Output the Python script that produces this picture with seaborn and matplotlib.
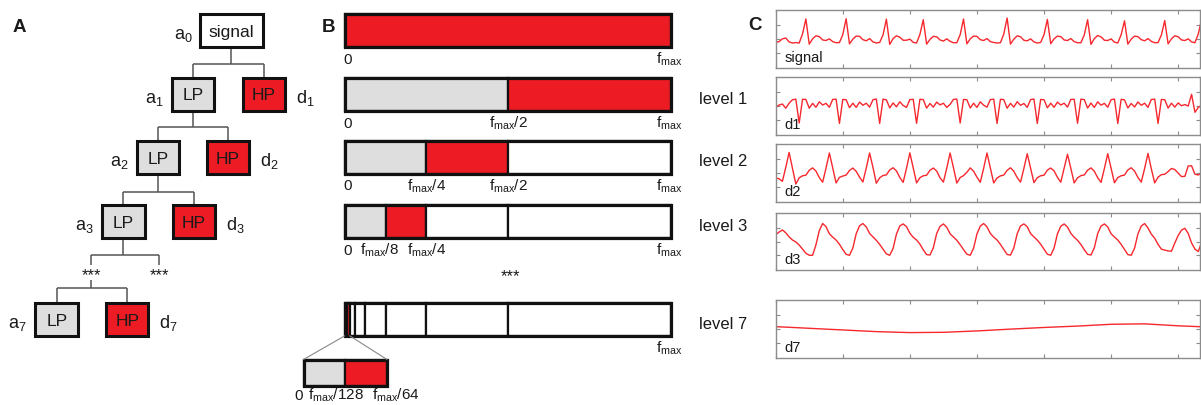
import numpy as np
import pandas as pd
import matplotlib
matplotlib.use("Agg")
import matplotlib.pyplot as plt
from matplotlib.patches import Rectangle, ConnectionPatch
import seaborn as sns

# ----------------------------- data -----------------------------
FS = 20.0  # samples per second of the traces in panel C

signal = [
    -0.25, -0.20, 0.00, 0.06, -0.22, -0.30, -0.27, -0.30, 0.35,
    1.43, -0.38, 0.00, 0.22, 0.16, -0.08, -0.12, 0.00, -0.20, -0.28, -0.27, 0.30,
    1.45, -0.36, -0.02, 0.20, 0.18, -0.06, -0.14, 0.02, -0.22, -0.30, -0.26, 0.28,
    1.42, -0.40, 0.02, 0.22, 0.12, -0.10, -0.10, -0.02, -0.25, -0.30, 0.32,
    1.38, -0.38, -0.04, 0.18, 0.15, -0.08, -0.16, 0.00, -0.18, -0.28, -0.28, 0.30,
    1.43, -0.36, 0.00, 0.20, 0.18, -0.06, -0.12, 0.02, -0.20, -0.26, -0.30, -0.28, 0.34,
    1.50, -0.38, -0.02, 0.22, 0.15, -0.10, -0.14, 0.00, -0.22, -0.30, -0.26, 0.30,
    1.40, -0.35, 0.00, 0.20, 0.16, -0.08, -0.12, 0.02, -0.20, -0.28, -0.28, 0.28,
    1.38, -0.40, 0.02, 0.24, 0.14, -0.10, -0.12, 0.00, -0.24, -0.30, 0.30,
    1.30, -0.38, -0.02, 0.20, 0.16, -0.06, -0.14, 0.02, -0.18, -0.28, -0.27, 0.28,
    1.32, -0.36, 0.00, 0.22, 0.15, -0.08, -0.12, 0.00, -0.22, -0.28, 0.35,
    1.40,
]

d1 = [
    -0.10, 0.07, 0.14, -0.16, 0.20, 0.45, 0.49,
    -1.22, 0.48, 0.47, -0.16, 0.19, -0.09, 0.30, 0.07, 0.19, -0.09, 0.47, 0.49,
    -1.25, 0.47, 0.45, -0.12, 0.20, -0.10, 0.28, 0.05, 0.20, -0.08, 0.45, 0.50,
    -1.25, 0.49, 0.44, -0.14, 0.22, -0.06, 0.30, 0.04, -0.10, 0.46, 0.48,
    -1.24, 0.48, 0.46, -0.15, 0.18, -0.08, 0.28, 0.08, 0.20, -0.10, 0.12, 0.47, 0.50,
    -1.22, 0.47, 0.45, -0.14, 0.20, -0.10, 0.30, 0.06, -0.08, 0.46, 0.49,
    -1.25, 0.48, 0.46, -0.16, 0.19, -0.08, 0.31, 0.05, 0.18, -0.10, 0.46, 0.50,
    -1.25, 0.47, 0.45, -0.13, 0.20, -0.09, 0.28, 0.07, 0.20, -0.08, 0.47, 0.48,
    -1.24, 0.49, 0.46, -0.15, 0.21, -0.10, 0.30, 0.06, 0.19, -0.09, 0.45, 0.50,
    -1.25, 0.48, 0.44, -0.14, 0.18, -0.07, 0.29, 0.05, 0.20, -0.10, 0.47, 0.49,
    -1.25, 0.47, 0.45, -0.15, 0.20, -0.08, 0.22, 0.02, 0.10,
    0.00, 0.84, -0.45, -0.10, 0.05,
]

d2 = [
    -0.35, -0.42, -0.60, 0.40,
    1.49, 0.35, -0.80, -0.35, -0.20, -0.16, 0.20, 0.37, 0.14, -0.33, -0.67, 0.35,
    1.45, 0.38, -0.72, -0.32, -0.22, -0.15, 0.18, 0.36, 0.12, -0.30, -0.65, 0.36,
    1.45, 0.40, -0.74, -0.35, -0.18, -0.14, 0.22, 0.38, 0.15, -0.32, -0.68, 0.34,
    1.46, 0.36, -0.72, -0.34, -0.20, -0.16, 0.20, 0.36, 0.14, -0.35, -0.66, 0.35,
    1.45, 0.38, -0.73, -0.33, -0.19, 0.05, 0.37, 0.13, -0.30, -0.67, 0.34,
    1.45, 0.37, -0.72, -0.36, -0.21, -0.15, 0.19, 0.38, 0.12, -0.33, -0.66, 0.33,
    1.40, 0.35, -0.70, -0.34, -0.20, -0.16, 0.21, 0.36, 0.15, -0.31, -0.67, 0.34,
    1.36, 0.34, -0.72, -0.35, -0.19, -0.14, 0.20, 0.37, 0.13, -0.34, -0.68, 0.32,
    1.40, 0.36, -0.71, -0.33, -0.20, -0.15, 0.22, 0.38, 0.14, -0.32, -0.66, 0.33,
    1.42, 0.30, -0.72, -0.30, -0.12, -0.09, 0.10, 0.33, 0.25, 0.00, -0.26, -0.24,
    0.51, 0.52, -0.09, -0.14, -0.02,
]

d3 = [
    0.52, 0.70, 0.86, 0.65, 0.35, 0.12, -0.02, -0.25, -0.55, -0.85, -1.00, -1.00, -0.23, 0.81,
    1.33, 1.10, 0.58, 0.33, 0.12, -0.19, -0.58, -0.93, -1.00, -0.47, 0.58, 1.16,
    1.33, 1.08, 0.60, 0.35, 0.10, -0.20, -0.55, -0.90, -1.00, -0.50, 0.55, 1.15,
    1.30, 1.10, 0.62, 0.32, 0.12, -0.18, -0.60, -0.95, -0.98, -0.45, 0.60, 1.12,
    1.30, 1.06, 0.58, 0.34, 0.10, -0.22, -0.58, -0.92, -1.00, -0.48, 0.56, 1.14,
    1.33, 1.08, 0.60, 0.33, 0.12, -0.20, -0.57, -0.94, -0.99, -0.46, 0.58, 1.15,
    1.30, 1.09, 0.59, 0.35, 0.11, -0.19, -0.56, -0.92, -1.00, -0.47, 0.57, 1.13,
    1.30, 1.07, 0.61, 0.32, 0.10, -0.21, -0.59, -0.93, -0.98, -0.45, 0.59, 1.14,
    1.30, 1.08, 0.58, 0.34, 0.12, -0.20, -0.57, -0.95, -1.00, -0.48, 0.56, 1.15,
    1.33, 1.00, 0.55, 0.25, -0.20, -0.55, -0.62, -0.68, -0.70, -0.10, 0.45, 0.85,
    0.98, 0.60, -0.10, -0.55, -0.72, -0.05,
]

d7_time = [0.0, 0.5, 1.0, 1.5, 2.0, 2.5, 3.0, 3.5, 4.0, 4.5, 5.0, 5.5, 6.0, 6.5]
d7 = [0.16, 0.04, -0.08, -0.20, -0.27, -0.25, -0.15, -0.02, 0.10, 0.20, 0.33, 0.36, 0.22, 0.12]

trace_names = ["signal", "d1", "d2", "d3", "d7"]

# panel A: filter tree labels
approx_labels = ["a$_1$", "a$_2$", "a$_3$", "a$_7$"]
detail_labels = ["d$_1$", "d$_2$", "d$_3$", "d$_7$"]

# panel B: frequency band edges (fractions of f_max) and their roles per level
band_levels = [0, 1, 2, 3, 7]
band_edges = {
    0: [0, 1],
    1: [0, 1/2, 1],
    2: [0, 1/4, 1/2, 1],
    3: [0, 1/8, 1/4, 1/2, 1],
    7: [0, 1/128, 1/64, 1/32, 1/16, 1/8, 1/4, 1/2, 1],
}
band_roles = {
    0: ["hp"],
    1: ["lp", "hp"],
    2: ["lp", "hp", "none"],
    3: ["lp", "hp", "none", "none"],
    7: ["lp", "hp", "none", "none", "none", "none", "none", "none"],
}
freq_ticks = {
    0: [(0, "0"), (1, "f$_{max}$")],
    1: [(0, "0"), (1/2, "f$_{max}$/2"), (1, "f$_{max}$")],
    2: [(0, "0"), (1/4, "f$_{max}$/4"), (1/2, "f$_{max}$/2"), (1, "f$_{max}$")],
    3: [(0, "0"), (1/8, "f$_{max}$/8"), (1/4, "f$_{max}$/4"), (1, "f$_{max}$")],
    7: [(1, "f$_{max}$")],
}
level_names = {1: "level 1", 2: "level 2", 3: "level 3", 7: "level 7"}
zoom_edges = [0, 1/128, 1/64]
zoom_roles = ["lp", "hp"]
zoom_ticks = [(0, "0"), (1/128, "f$_{max}$/128"), (1/64, "f$_{max}$/64")]

# ----------------------------- style -----------------------------
sns.set_theme(style="white")
plt.rcParams["font.family"] = ["Liberation Sans", "DejaVu Sans"]
plt.rcParams["mathtext.default"] = "regular"

RED = "#ED1C24"
GRAY = "#DEDEDE"
INK = "#111111"
TXT = "#1A1A1A"
LINE = "#555555"
TRACE = "#F5282E"
SPINE = "#8C8C8C"
role_color = {"lp": GRAY, "hp": RED, "none": "white"}

W, H = 1201, 405
fig = plt.figure(figsize=(W / 100, H / 100), dpi=100)

# overlay axes in pixel coordinates for the tree (panel A) and panel letters
axA = fig.add_axes([0, 0, 1, 1])
axA.set_xlim(0, W)
axA.set_ylim(H, 0)
axA.axis("off")

for letter, (lx, ly) in zip("ABC", [(13, 31.7), (321.5, 31.7), (748.5, 30)]):
    axA.text(lx, ly, letter, fontsize=13.5, fontweight="bold", color=TXT,
             ha="left", va="baseline")

# ----------------------------- panel A -----------------------------
BOX_W, BOX_H = 42.5, 33.0
ROW_Y = [30.5, 94.5, 157.5, 221.7, 319.6]
SIG_CX, SIG_W = 231.3, 62.5
tree_cx = [(193.0, 264.0), (158.0, 228.0), (123.3, 194.0), (56.7, 127.2)]


def draw_box(cx, cy, w, fc, label):
    axA.add_patch(Rectangle((cx - w / 2, cy - BOX_H / 2), w, BOX_H, fc=fc,
                            ec=INK, lw=2.2, zorder=3))
    axA.text(cx, cy + 6, label, ha="center", va="baseline", fontsize=12.5,
             color=TXT, zorder=4)


def draw_elbow(px, y0, ym, xl, xr, y1):
    kw = dict(color=LINE, lw=1.1, zorder=1, solid_capstyle="butt")
    axA.plot([px, px], [y0, ym], **kw)
    axA.plot([xl, xr], [ym, ym], **kw)
    axA.plot([xl, xl], [ym, y1], **kw)
    axA.plot([xr, xr], [ym, y1], **kw)


draw_box(SIG_CX, ROW_Y[0], SIG_W, "white", "signal")
axA.text(SIG_CX - SIG_W / 2 - 7, ROW_Y[0] + 8.5, "a$_0$", ha="right",
         va="baseline", fontsize=13, color=TXT)

for i, (lpx, hpx) in enumerate(tree_cx):
    cy = ROW_Y[i + 1]
    draw_box(lpx, cy, BOX_W, GRAY, "LP")
    draw_box(hpx, cy, BOX_W, RED, "HP")
    axA.text(lpx - BOX_W / 2 - 8.5, cy + 8.5, approx_labels[i], ha="right",
             va="baseline", fontsize=13, color=TXT)
    axA.text(hpx + BOX_W / 2 + 11, cy + 8.5, detail_labels[i], ha="left",
             va="baseline", fontsize=13, color=TXT)

half = BOX_H / 2
draw_elbow(SIG_CX, ROW_Y[0] + half, 63.5, tree_cx[0][0], tree_cx[0][1], ROW_Y[1] - half)
draw_elbow(tree_cx[0][0], ROW_Y[1] + half, 127.3, tree_cx[1][0], tree_cx[1][1], ROW_Y[2] - half)
draw_elbow(tree_cx[1][0], ROW_Y[2] + half, 191.7, tree_cx[2][0], tree_cx[2][1], ROW_Y[3] - half)
draw_elbow(tree_cx[2][0], ROW_Y[3] + half, 255.0, 91.0, 159.0, 265.0)
draw_elbow(91.0, 280.0, 288.0, tree_cx[3][0], tree_cx[3][1], ROW_Y[4] - half)
for sx in (91.0, 159.0):
    axA.text(sx, 280.5, "***", ha="center", va="baseline", fontsize=12, color=TXT)

# ----------------------------- panel B -----------------------------
B_LEFT, B_RIGHT = 344.7, 671.3
B_W = B_RIGHT - B_LEFT
BAR_H = 32.5
axB = fig.add_axes([B_LEFT / W, 0, B_W / W, 1])
axB.set_xlim(0, 1)
axB.set_ylim(H, 0)
axB.axis("off")

for lvl, cy in zip(band_levels, ROW_Y):
    edges = band_edges[lvl]
    lefts = edges[:-1]
    widths = np.diff(edges)
    cols = [role_color[r] for r in band_roles[lvl]]
    bars = axB.barh([cy] * len(lefts), widths, left=lefts, height=BAR_H,
                    color=cols, edgecolor=INK, linewidth=1.6)
    for p in bars:
        p.set_clip_on(False)
    frame = axB.barh(cy, 1, left=0, height=BAR_H, fill=False,
                     edgecolor=INK, linewidth=2.3)
    for p in frame:
        p.set_clip_on(False)
    for x, lab in freq_ticks[lvl]:
        if x == 0:
            ha, dx = "left", -1.5
        elif x == 1:
            ha, dx = "center", -2.5
        elif lvl == 3 and x == 1/8:
            ha, dx = "center", -6.5
        else:
            ha, dx = "center", 0
        axB.annotate(lab, xy=(x, cy + 33), xycoords="data", xytext=(dx, 0),
                     textcoords="offset pixels", ha=ha, va="baseline",
                     fontsize=11, color=TXT, annotation_clip=False)
    if lvl in level_names:
        axB.text(1 + (699.3 - B_RIGHT) / B_W, cy + 9, level_names[lvl],
                 ha="left", va="baseline", fontsize=12, color=TXT, clip_on=False)

axB.text((510 - B_LEFT) / B_W, 281, "***", ha="center", va="baseline",
         fontsize=12, color=TXT, clip_on=False)

# zoomed inset of the lowest bands of level 7
IN_L, IN_R, IN_T, IN_B = 303.5, 387.0, 359.5, 386.0
axI = fig.add_axes([IN_L / W, 1 - IN_B / H, (IN_R - IN_L) / W, (IN_B - IN_T) / H])
axI.set_xlim(0, zoom_edges[-1])
axI.set_ylim(0, 1)
axI.axis("off")
zb = axI.barh([0.5] * 2, np.diff(zoom_edges), left=zoom_edges[:-1], height=1,
              color=[role_color[r] for r in zoom_roles], edgecolor=INK, linewidth=1.6)
for p in zb:
    p.set_clip_on(False)
zf = axI.barh(0.5, zoom_edges[-1], left=0, height=1, fill=False, edgecolor=INK, linewidth=2.3)
for p in zf:
    p.set_clip_on(False)
for (x, lab), dx in zip(zoom_ticks, [-4.5, -9, 9]):
    axI.annotate(lab, xy=(x, 0), xycoords="data", xytext=(dx, -14),
                 textcoords="offset pixels", ha="center", va="baseline",
                 fontsize=11, color=TXT, annotation_clip=False)

row7_bottom = ROW_Y[4] + BAR_H / 2
for xe in (zoom_edges[0], zoom_edges[-1]):
    con = ConnectionPatch(xyA=(xe, row7_bottom), coordsA=axB.transData,
                          xyB=(xe, 1), coordsB=axI.transData,
                          color="#888888", lw=0.8)
    fig.add_artist(con)

# ----------------------------- panel C -----------------------------
C_LEFT, C_RIGHT = 775.7, 1200.3
c_rows = [(10.0, 67.7), (77.0, 135.0), (144.3, 201.7), (213.3, 270.0), (300.0, 357.7)]
t = np.arange(len(signal)) / FS
traces = [(t, signal), (t, d1), (t, d2), (t, d3), (d7_time, d7)]

for (top, bot), name, (tx, vy) in zip(c_rows, trace_names, traces):
    ax = fig.add_axes([C_LEFT / W, 1 - bot / H, (C_RIGHT - C_LEFT) / W, (bot - top) / H])
    df = pd.DataFrame({"t": tx, "v": vy})
    sns.lineplot(data=df, x="t", y="v", ax=ax, color=TRACE, linewidth=1.0)
    ax.set_xlim(0, 6.33)
    ax.set_ylim(-2.08, 2.08)
    ax.set_xticks(range(7))
    ax.set_yticks([-1, 0, 1])
    ax.tick_params(direction="in", length=3, width=0.8, color=SPINE,
                   top=True, right=True, bottom=True, left=True,
                   labelbottom=False, labelleft=False)
    for s in ax.spines.values():
        s.set_visible(True)
        s.set_color(SPINE)
        s.set_linewidth(1.0)
    ax.set_xlabel("")
    ax.set_ylabel("")
    ax.text(0.021, 6.0 / (bot - top), name, transform=ax.transAxes,
            fontsize=10.5, ha="left", va="baseline", color=TXT)

fig.savefig("out.png", dpi=100)
